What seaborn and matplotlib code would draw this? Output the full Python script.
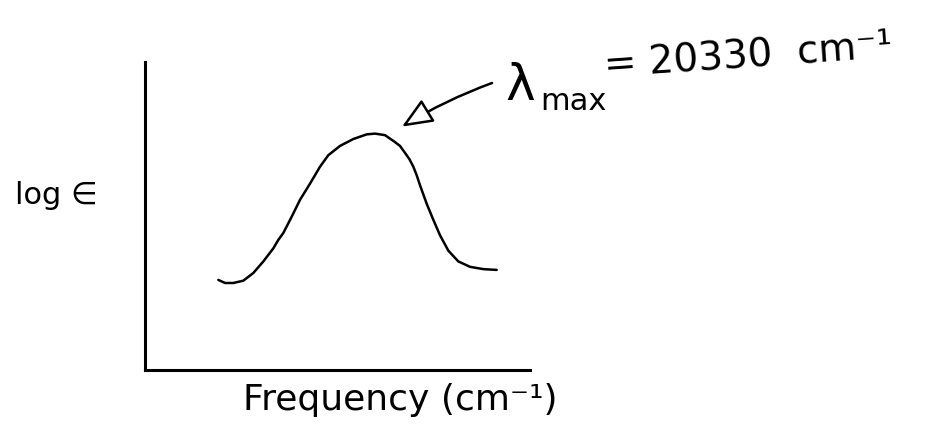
import matplotlib
matplotlib.use("Agg")
import matplotlib.pyplot as plt
from matplotlib.transforms import offset_copy
import pandas as pd
import seaborn as sns

# Absorption band: wavenumber (cm^-1) against log epsilon
frequency = [15630, 15830, 16080, 16380, 16680, 16980, 17280, 17430, 17580, 17830,
             18080, 18380, 18530, 18680, 18930, 19280, 19680, 20080, 20330, 20630,
             20930, 21080, 21230, 21360, 21480, 21580, 21680, 21780, 21880, 22080,
             22280, 22530, 22830, 23180, 23580, 23980]
log_eps = [1.17, 1.13, 1.13, 1.16, 1.26, 1.41, 1.58, 1.69, 1.78, 1.99,
           2.21, 2.42, 2.53, 2.64, 2.79, 2.91, 3.00, 3.06, 3.07, 3.05,
           2.96, 2.91, 2.82, 2.74, 2.64, 2.53, 2.40, 2.28, 2.16, 1.95,
           1.75, 1.55, 1.41, 1.34, 1.31, 1.30]
lambda_max = 20330
x_range = (13430, 24980)
y_range = (0, 4)
x_label = "Frequency (cm⁻¹)"
y_label = "log ∈"

sns.set_style("white")
plt.rcParams["font.family"] = ["DejaVu Sans"]
plt.rcParams["text.color"] = "black"
plt.rcParams["axes.labelcolor"] = "black"

W, H = 941, 429
fig = plt.figure(figsize=(W / 100, H / 100), dpi=100)
ax = fig.add_axes([145 / W, 59 / H, 385 / W, 308 / H])

band = pd.DataFrame({"frequency": frequency, "log_eps": log_eps})
sns.lineplot(data=band, x="frequency", y="log_eps", color="black",
             linewidth=1.8, sort=False, ax=ax,
             solid_joinstyle="round", solid_capstyle="round")

ax.set_xlim(*x_range)
ax.set_ylim(*y_range)
ax.set_xticks([])
ax.set_yticks([])
sns.despine(ax=ax)
for side in ("left", "bottom"):
    ax.spines[side].set_color("black")
    ax.spines[side].set_linewidth(2.2)

ax.set_xlabel(x_label, fontsize=26)
ax.xaxis.label.set_va("center")
ax.xaxis.set_label_coords(0.662, -0.097)
ax.set_ylabel(y_label, fontsize=22, rotation=0, ha="center", va="center")
ax.yaxis.set_label_coords(-0.231, 0.568)

# arrow pointing at the band maximum
peak_idx = band["log_eps"].idxmax()
peak_x = band.loc[peak_idx, "frequency"]
peak_y = band.loc[peak_idx, "log_eps"]
tip = offset_copy(ax.transData, fig=fig, x=27, y=7, units="dots")
ax.annotate("", xy=(peak_x, peak_y), xycoords=tip,
            xytext=(492, H - 83), textcoords="figure pixels",
            arrowprops=dict(arrowstyle="-|>,head_length=0.95,head_width=0.4",
                            fc="white", ec="black", lw=1.8, mutation_scale=20,
                            shrinkA=0, shrinkB=0,
                            connectionstyle="arc3,rad=0.05"))

fig.text(505 / W, (H - 100) / H, "λ", fontsize=36, ha="left", va="baseline")
fig.text(540 / W, (H - 110) / H, "max", fontsize=22, ha="left", va="baseline")
fig.text(605 / W, (H - 78) / H, f"= {lambda_max}  cm⁻¹", fontsize=28,
         ha="left", va="baseline", rotation=4, rotation_mode="anchor")

fig.savefig("out.png", dpi=100)
